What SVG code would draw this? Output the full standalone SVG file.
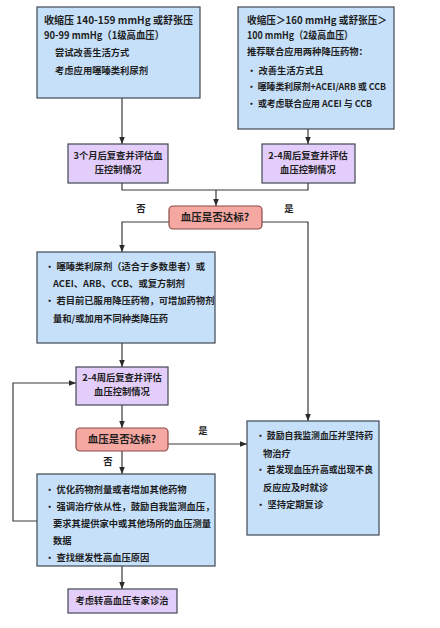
<svg xmlns="http://www.w3.org/2000/svg" width="440" height="628" viewBox="0 0 440 628">
<defs>
<style>
.blue{fill:#c6e0fa;stroke:#3e4852;stroke-width:1.2}
.purp{fill:#e3cdfa;stroke:#3e4852;stroke-width:1.2}
.pink{fill:#f5a7a1;stroke:#8a4a48;stroke-width:1.2}
text{font-family:"Noto Sans CJK SC","Noto Sans",sans-serif;font-weight:bold;fill:#1e1e1e}
.h{font-size:10.5px}
.b{font-size:9.3px}
.c{text-anchor:middle}
.ln{fill:none;stroke:#3a3a3a;stroke-width:1.2}
</style>
<marker id="ar" viewBox="0 0 10 10" refX="10" refY="5" markerWidth="6" markerHeight="6" orient="auto">
<path d="M0,1 L10,5 L0,9 z" fill="#2a2a2a"/>
</marker>
</defs>
<rect width="440" height="628" fill="#ffffff"/>

<g id="connectors">
<path class="ln" d="M122,98 V144" marker-end="url(#ar)"/>
<path class="ln" d="M308,129 V144" marker-end="url(#ar)"/>
<path class="ln" d="M122,183 V190 H308 V183"/>
<path class="ln" d="M216,190 V206" marker-end="url(#ar)"/>
<path class="ln" d="M169,222 H122 V252" marker-end="url(#ar)"/>
<path class="ln" d="M262,222 H308 V421" marker-end="url(#ar)"/>
<path class="ln" d="M122,343 V367" marker-end="url(#ar)"/>
<path class="ln" d="M122,405 V428" marker-end="url(#ar)"/>
<path class="ln" d="M168,444 H247" marker-end="url(#ar)"/>
<path class="ln" d="M122,451 V474" marker-end="url(#ar)"/>
<path class="ln" d="M37,521 H13 V383 H76" marker-end="url(#ar)"/>
<path class="ln" d="M122,566 V589" marker-end="url(#ar)"/>
<text class="b c" x="141" y="212">否</text>
<text class="b c" x="289" y="212">是</text>
<text class="b c" x="203" y="434">是</text>
<text class="b c" x="108" y="465">否</text>
</g>

<g id="grade1">
<rect class="blue" x="37" y="7" width="163" height="91"/>
<text class="h" x="44" y="24" textLength="149" lengthAdjust="spacingAndGlyphs">收缩压 140-159 mmHg 或舒张压</text>
<text class="h" x="44" y="39" textLength="120" lengthAdjust="spacingAndGlyphs">90-99 mmHg（1级高血压）</text>
<text class="b" x="55" y="56">尝试改善生活方式</text>
<text class="b" x="55" y="74">考虑应用噻嗪类利尿剂</text>
</g>

<g id="grade2">
<rect class="blue" x="238" y="7" width="156" height="122"/>
<text class="h" x="247" y="24" textLength="140" lengthAdjust="spacingAndGlyphs">收缩压＞160 mmHg 或舒张压＞</text>
<text class="h" x="247" y="39" textLength="106" lengthAdjust="spacingAndGlyphs">100 mmHg（2级高血压）</text>
<text class="b" x="247" y="55">推荐联合应用两种降压药物：</text>
<text class="b" x="247" y="74">•  改善生活方式且</text>
<text class="b" x="247" y="90" textLength="139" lengthAdjust="spacingAndGlyphs">•  噻嗪类利尿剂+ACEI/ARB 或 CCB</text>
<text class="b" x="247" y="107" textLength="125" lengthAdjust="spacingAndGlyphs">•  或考虑联合应用 ACEI 与 CCB</text>
</g>

<g id="recheck1">
<rect class="purp" x="68" y="144" width="100" height="39"/>
<text class="b c" x="118" y="159">3个月后复查并评估血</text>
<text class="b c" x="118" y="173">压控制情况</text>
</g>

<g id="recheck2">
<rect class="purp" x="262" y="144" width="93" height="39"/>
<text class="b c" x="308" y="159">2-4周后复查并评估</text>
<text class="b c" x="308" y="173">血压控制情况</text>
</g>

<g id="decision1">
<rect class="pink" x="169" y="206" width="93" height="23" rx="4"/>
<text class="h c" x="215" y="221">血压是否达标?</text>
</g>

<g id="drugs">
<rect class="blue" x="37" y="252" width="178" height="91"/>
<text class="b" x="45" y="270">•  噻嗪类利尿剂（适合于多数患者）或</text>
<text class="b" x="53" y="287">ACEI、ARB、CCB、或复方制剂</text>
<text class="b" x="45" y="304">•  若目前已服用降压药物，可增加药物剂</text>
<text class="b" x="53" y="322">量和/或加用不同种类降压药</text>
</g>

<g id="recheck3">
<rect class="purp" x="76" y="367" width="92" height="38"/>
<text class="b c" x="122" y="381">2-4周后复查并评估</text>
<text class="b c" x="122" y="395">血压控制情况</text>
</g>

<g id="decision2">
<rect class="pink" x="76" y="428" width="92" height="23" rx="4"/>
<text class="h c" x="122" y="443">血压是否达标?</text>
</g>

<g id="maintain">
<rect class="blue" x="247" y="421" width="132" height="114"/>
<text class="b" x="256" y="439" textLength="117" lengthAdjust="spacingAndGlyphs">•  鼓励自我监测血压并坚持药</text>
<text class="b" x="263" y="457">物治疗</text>
<text class="b" x="256" y="473" textLength="117" lengthAdjust="spacingAndGlyphs">•  若发现血压升高或出现不良</text>
<text class="b" x="263" y="491">反应应及时就诊</text>
<text class="b" x="256" y="508">•  坚持定期复诊</text>
</g>

<g id="optimize">
<rect class="blue" x="37" y="474" width="178" height="92"/>
<text class="b" x="45" y="493">•  优化药物剂量或者增加其他药物</text>
<text class="b" x="45" y="510">•  强调治疗依从性，鼓励自我监测血压，</text>
<text class="b" x="53" y="527">要求其提供家中或其他场所的血压测量</text>
<text class="b" x="53" y="544">数据</text>
<text class="b" x="45" y="561">•  查找继发性高血压原因</text>
</g>

<g id="referral">
<rect class="purp" x="68" y="589" width="109" height="24"/>
<text class="b c" x="122" y="604">考虑转高血压专家诊治</text>
</g>
</svg>
